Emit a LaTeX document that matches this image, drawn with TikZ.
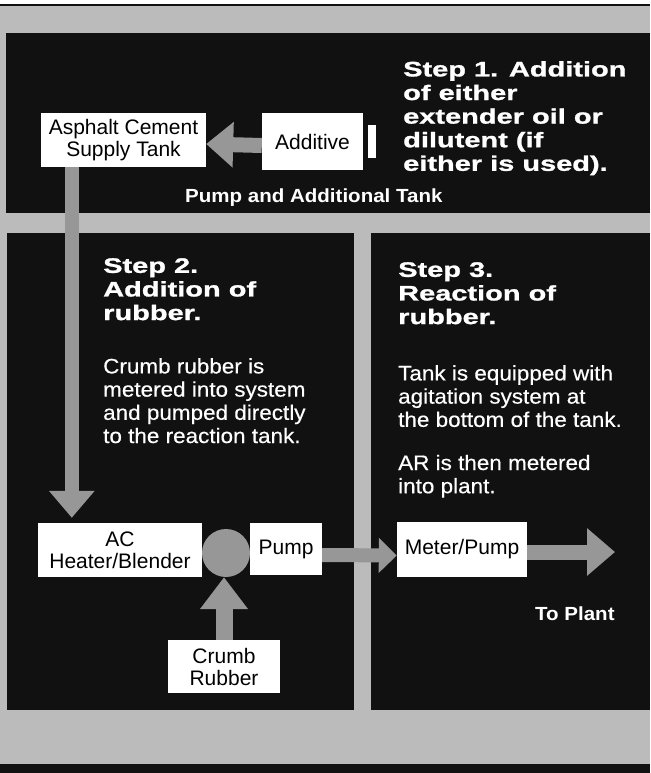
\documentclass[tikz,border=0pt]{standalone}
\usepackage{fontspec}
\setmainfont{Liberation Sans}
\newfontfamily\headfont{Liberation Sans Bold}[FakeStretch=1.38,FakeBold=1.2]
\newfontfamily\bodyfont{Liberation Sans}[FakeStretch=1.07,FakeBold=0.4]
\newfontfamily\labfont{Liberation Sans Bold}[FakeStretch=1.08]
\usetikzlibrary{arrows.meta}
\definecolor{panel}{HTML}{111111}
\definecolor{band}{HTML}{BBBBBB}
\definecolor{arrowgray}{HTML}{979797}
\begin{document}
\begin{tikzpicture}[x=1pt,y=-1pt,
  box/.style={fill=white, inner sep=0pt, align=center, text=black, font=\fontsize{21}{22}\selectfont},
  steptitle/.style={anchor=north west, inner sep=0pt, align=left, text=white, font=\headfont\fontsize{21}{23.6}\selectfont},
  bodytext/.style={anchor=north west, inner sep=0pt, align=left, text=white, font=\bodyfont\fontsize{21}{23.2}\selectfont},
  lab/.style={anchor=base west, inner sep=0pt, text=white, font=\labfont\fontsize{19}{22}\selectfont},
  flow/.style={draw=arrowgray, line width=15pt, -{Triangle[length=27pt,width=44pt]}}]
\useasboundingbox (0,0) rectangle (650,773);
% background bands and panels
\fill[white] (0,0) rectangle (650,4);
\fill[panel] (0,4) rectangle (650,6);
\fill[band] (0,6) rectangle (650,764);
\fill[panel] (0,764) rectangle (650,773);
\fill[panel] (6,33) rectangle (650,213);
\fill[panel] (7,233) rectangle (354,710);
\fill[panel] (371,233) rectangle (650,710);
% boxes
\node[box, minimum width=165pt, minimum height=54pt] (asp) at (123.5,140) {Asphalt Cement\\Supply Tank};
\node[box, minimum width=101pt, minimum height=57pt] (add) at (312.5,141.5) {Additive};
\node[fill=white, inner sep=0pt, minimum width=8pt, minimum height=33pt] (bar) at (372,141.5) {};
\node[box, minimum width=164pt, minimum height=54pt] (ac) at (120,550) {AC\\Heater/Blender};
\node[circle, fill=arrowgray, inner sep=0pt, minimum size=48pt] (mix) at (226,553) {};
\node[box, minimum width=72pt, minimum height=52pt] (pump) at (286,549) {Pump};
\node[box, minimum width=130pt, minimum height=55pt] (meter) at (462,549.5) {Meter/Pump};
\node[box, minimum width=112pt, minimum height=53pt] (crumb) at (224,666.5) {Crumb\\Rubber};
\coordinate (plant) at (615,552);
% connectors
\draw[flow] ([yshift=-4pt]add.west) -- ([yshift=-4pt]asp.east);
\draw[flow, line width=14pt, shorten >=5pt] ([xshift=31pt]asp.south west) -- ([xshift=34pt]ac.north west);
\draw[flow, line width=14pt, -{Triangle[length=18pt,width=34pt]}] ([yshift=-6pt]pump.east) -- ([yshift=-6pt]meter.west);
\draw[flow, -{Triangle[length=28pt,width=46pt]}] ([yshift=-2.5pt]meter.east) -- (plant);
\draw[flow, line width=17pt, -{Triangle[length=32pt,width=46pt]}] (crumb.north) -- (crumb.north |- mix.south);
% texts
\node[steptitle] (s1) at (403,61) {Step 1. Addition\\of either\\extender oil or\\dilutent (if\\either is used).};
\node[lab] (pt) at (185,202) {Pump and Additional Tank};
\node[steptitle] (s2) at (103,258) {Step 2.\\Addition of\\rubber.};
\node[bodytext] (b2) at (103,358) {Crumb rubber is\\metered into system\\and pumped directly\\to the reaction tank.};
\node[steptitle] (s3) at (398,262) {Step 3.\\Reaction of\\rubber.};
\node[bodytext] (b3) at (398,365) {Tank is equipped with\\agitation system at\\the bottom of the tank.\\[20pt]AR is then metered\\into plant.};
\node[lab] (tp) at (535,620) {To Plant};
\end{tikzpicture}
\end{document}
